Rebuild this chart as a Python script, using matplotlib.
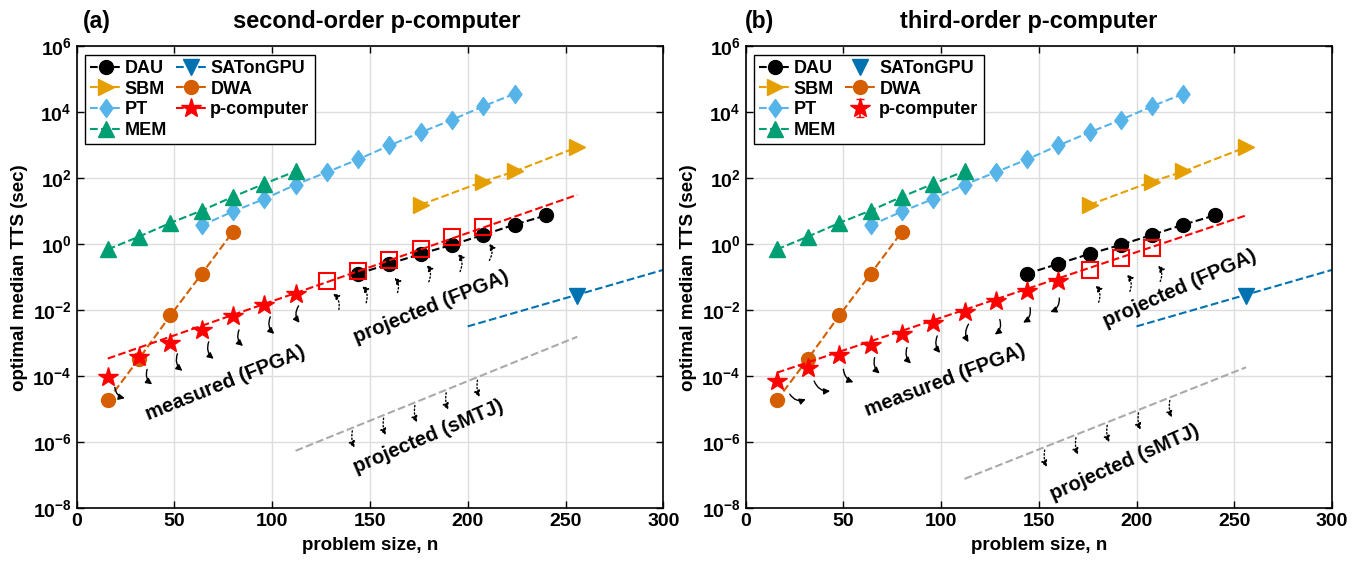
import matplotlib
matplotlib.use('Agg')
import matplotlib.pyplot as plt
from matplotlib import transforms
from matplotlib.lines import Line2D
from matplotlib.ticker import FixedLocator, FuncFormatter, NullLocator
import numpy as np

plt.rcParams['font.family'] = ['Liberation Sans', 'DejaVu Sans']
plt.rcParams['font.weight'] = 'bold'
plt.rcParams['mathtext.fontset'] = 'custom'
plt.rcParams['mathtext.rm'] = 'Liberation Sans:bold'
plt.rcParams['mathtext.bf'] = 'Liberation Sans:bold'
plt.rcParams['mathtext.it'] = 'Liberation Sans:bold'

# ---- data (TTS in seconds) ----
n_dau = [144, 160, 176, 192, 208, 224, 240]
tts_dau = [0.13, 0.26, 0.52, 0.98, 1.96, 4.0, 7.6]

n_sbm = [176, 208, 224, 256]
tts_sbm = [16, 81, 163, 890]

n_pt = [64, 80, 96, 112, 128, 144, 160, 176, 192, 208, 224]
tts_pt = [3.8, 10, 24, 65, 155, 380, 1000, 2500, 6000, 15500, 37000]

n_mem = [16, 32, 48, 64, 80, 96, 112]
tts_mem = [0.71, 1.74, 4.5, 10.7, 28, 69, 166]

n_dwa = [16, 32, 48, 64, 80]
tts_dwa = [1.9e-5, 3.5e-4, 7.1e-3, 0.129, 2.45]

n_gpu = [256]
tts_gpu = [0.028]
n_gpu_fit = [200, 300]
tts_gpu_fit = [3.3e-3, 0.17]

# second-order p-computer
n_pc2 = [16, 32, 48, 64, 80, 96, 112]
tts_pc2 = [9.5e-5, 3.8e-4, 1.05e-3, 2.6e-3, 6.8e-3, 1.48e-2, 3.2e-2]
n_proj2 = [128, 144, 160, 176, 192, 208]
tts_proj2 = [0.076, 0.16, 0.35, 0.74, 1.74, 3.3]
n_fit2 = [16, 256]
tts_fit2 = [3.5e-4, 32]
n_smtj2 = [112, 256]
tts_smtj2 = [5.6e-7, 1.6e-3]

# third-order p-computer
n_pc3 = [16, 32, 48, 64, 80, 96, 112, 128, 144, 160]
tts_pc3 = [7.2e-5, 1.8e-4, 4.4e-4, 9.3e-4, 2.0e-3, 4.2e-3, 8.9e-3, 2.0e-2, 4.0e-2, 7.8e-2]
n_proj3 = [176, 192, 208]
tts_proj3 = [0.166, 0.38, 0.76]
n_fit3 = [16, 256]
tts_fit3 = [1.3e-4, 7.6]
n_smtj3 = [112, 256]
tts_smtj3 = [7.9e-8, 1.9e-4]

c_sbm = '#E69F00'
c_pt = '#56B4E9'
c_mem = '#009E73'
c_dwa = '#D55E00'
c_gpu = '#0072B2'
c_smtj = '#AAAAAA'

# MATLAB-like diamond (taller than wide)
diamond = [(0, 1), (0.72, 0), (0, -1), (-0.72, 0), (0, 1)]

fig = plt.figure(figsize=(13.62, 5.67), dpi=100)
ax_a = fig.add_axes([0.0562, 0.1032, 0.4308, 0.8148])
ax_b = fig.add_axes([0.5474, 0.1032, 0.4306, 0.8148])


def arrows(ax, xs, ys, tails, heads, rads, ls):
    # offsets are in pixels, second value measured downwards
    for x, y, t, h, r in zip(xs, ys, tails, heads, rads):
        tr_t = transforms.offset_copy(ax.transData, fig=fig, x=t[0], y=-t[1], units='dots')
        tr_h = transforms.offset_copy(ax.transData, fig=fig, x=h[0], y=-h[1], units='dots')
        ax.annotate('', xy=(x, y), xycoords=tr_h, xytext=(x, y), textcoords=tr_t,
                    arrowprops=dict(arrowstyle='-|>', color='k', lw=1.0, linestyle=ls,
                                    mutation_scale=9, shrinkA=0, shrinkB=0,
                                    connectionstyle='arc3,rad=%.2f' % r))


def on_line(nx, ny, xs):
    return 10 ** np.interp(xs, nx, np.log10(ny))


def draw(ax, third):
    lw = 1.5
    h_dau, = ax.plot(n_dau, tts_dau, '--o', color='k', lw=lw, ms=10, zorder=4)
    h_sbm, = ax.plot(n_sbm, tts_sbm, '-->', color=c_sbm, lw=lw, ms=11)
    h_pt, = ax.plot(n_pt, tts_pt, '--', marker=diamond, color=c_pt, lw=lw, ms=13)
    h_mem, = ax.plot(n_mem, tts_mem, '--^', color=c_mem, lw=lw, ms=11)
    h_dwa, = ax.plot(n_dwa, tts_dwa, '--o', color=c_dwa, lw=lw, ms=10)
    ax.plot(n_gpu_fit, tts_gpu_fit, '--', color=c_gpu, lw=lw)
    h_gpu, = ax.plot(n_gpu, tts_gpu, 'v', color=c_gpu, ms=11,
                     ls='none' if third else '--', lw=lw)

    if third:
        n_pc, tts_pc, n_pj, tts_pj = n_pc3, tts_pc3, n_proj3, tts_proj3
        n_fit, tts_fit, n_sm, tts_sm = n_fit3, tts_fit3, n_smtj3, tts_smtj3
    else:
        n_pc, tts_pc, n_pj, tts_pj = n_pc2, tts_pc2, n_proj2, tts_proj2
        n_fit, tts_fit, n_sm, tts_sm = n_fit2, tts_fit2, n_smtj2, tts_smtj2

    ax.plot(n_fit, tts_fit, '--', color='r', lw=lw, zorder=5)
    ax.plot(n_sm, tts_sm, '--', color=c_smtj, lw=lw)
    ax.plot(n_pj, tts_pj, 's', color='r', mfc='none', mew=1.5, ms=11, zorder=6)
    if third:
        h_pc = ax.errorbar(n_pc, tts_pc, yerr=np.zeros(len(n_pc)), fmt='*', color='r',
                           ms=15, capsize=3, elinewidth=1.2, zorder=6)
    else:
        ax.plot(n_pc, tts_pc, '*', color='r', ms=15, zorder=6)
        h_pc = Line2D([], [], color='r', ls='--', lw=lw, marker='*', ms=15)

    ax.set_yscale('log')
    ax.set_xlim(0, 300)
    ax.set_ylim(1e-8, 1e6)
    ax.xaxis.set_major_locator(FixedLocator([0, 50, 100, 150, 200, 250, 300]))
    ax.yaxis.set_major_locator(FixedLocator([10.0 ** k for k in range(-8, 7, 2)]))
    ax.yaxis.set_minor_locator(NullLocator())
    ax.yaxis.set_major_formatter(FuncFormatter(lambda v, p: r'$\mathbf{10^{%d}}$' % round(np.log10(v))))
    ax.tick_params(direction='in', top=True, right=True, length=5, width=1.0, labelsize=14)
    ax.grid(True, color='#DDDDDD', lw=1.0)
    ax.set_axisbelow(True)
    for s in ax.spines.values():
        s.set_linewidth(1.2)

    ax.set_xlabel('problem size, n', fontsize=13.5, fontweight='bold')
    ax.set_ylabel('optimal median TTS (sec)', fontsize=13.5, fontweight='bold')
    ax.yaxis.set_label_coords(-0.082, 0.5)
    ax.xaxis.set_label_coords(0.5, -0.062)

    leg = ax.legend([h_dau, h_sbm, h_pt, h_mem, h_gpu, h_dwa, h_pc],
                    ['DAU', 'SBM', 'PT', 'MEM', 'SATonGPU', 'DWA', 'p-computer'],
                    ncol=2, loc='upper left', bbox_to_anchor=(0.008, 0.99),
                    prop={'size': 13, 'weight': 'bold'}, fancybox=False,
                    edgecolor='k', framealpha=1, handlelength=1.7, handletextpad=0.2,
                    columnspacing=0.5, labelspacing=0.2, borderpad=0.3, borderaxespad=0.2)
    leg.get_frame().set_linewidth(1.0)

    # annotation arrows
    if third:
        arrows(ax, n_pc, tts_pc,
               [(13, 13), (6, 13), (4, 14), (4, 13), (5, 14), (4, 13), (4, 12), (4, 19), (3, 17), (1, 17)],
               [(29, 18), (22, 23), (14, 27), (9, 29), (9, 30), (7, 30), (4, 30), (-1, 34), (-4, 32), (-8, 31)],
               [0.4, 0.35, 0.3, 0.3, 0.3, 0.3, 0.3, -0.35, -0.35, -0.35], '-')
        arrows(ax, n_pj, tts_pj, [(9, 32), (9, 33), (8, 33)], [(6, 15), (6, 16), (6, 17)],
               [0.3] * 3, ':')
        xs = [153, 169, 185, 201, 217]
    else:
        arrows(ax, n_pc, tts_pc,
               [(7, 10), (8, 12), (7, 11), (7, 12), (6, 14), (6, 12), (3, 12)],
               [(17, 21), (13, 27), (12, 28), (12, 29), (10, 30), (10, 29), (4, 29)],
               [0.35] * 7, '-')
        arrows(ax, n_pj, tts_pj,
               [(12, 28), (8, 32), (8, 33), (8, 33), (8, 35), (6, 33)],
               [(6, 12), (4, 15), (5, 18), (6, 16), (6, 17), (6, 16)],
               [0.3] * 6, ':')
        xs = [141, 157, 173, 189, 205]
    arrows(ax, xs, on_line(n_sm, tts_sm, xs), [(0, 3)] * 5, [(2, 20)] * 5, [0.15] * 5, ':')

    fs = 14.5
    if third:
        ax.text(102, 10 ** -4.12, 'measured (FPGA)', rotation=21, ha='center', va='center',
                rotation_mode='anchor', fontsize=fs, fontweight='bold')
        ax.text(222, 10 ** -1.34, 'projected (FPGA)', rotation=24, ha='center', va='center',
                rotation_mode='anchor', fontsize=fs, fontweight='bold')
        ax.text(194, 10 ** -6.62, 'projected (sMTJ)', rotation=24, ha='center', va='center',
                rotation_mode='anchor', fontsize=fs, fontweight='bold')
    else:
        ax.text(76, 10 ** -4.21, 'measured (FPGA)', rotation=22, ha='center', va='center',
                rotation_mode='anchor', fontsize=fs, fontweight='bold')
        ax.text(181.5, 10 ** -1.90, 'projected (FPGA)', rotation=22, ha='center', va='center',
                rotation_mode='anchor', fontsize=fs, fontweight='bold')
        ax.text(180, 10 ** -5.84, 'projected (sMTJ)', rotation=23, ha='center', va='center',
                rotation_mode='anchor', fontsize=fs, fontweight='bold')


draw(ax_a, False)
draw(ax_b, True)

fig.text(0.071, 0.962, '(a)', ha='center', va='center', fontsize=16.5, fontweight='bold')
fig.text(0.2768, 0.962, 'second-order p-computer', ha='center', va='center', fontsize=17, fontweight='bold')
fig.text(0.558, 0.962, '(b)', ha='center', va='center', fontsize=16.5, fontweight='bold')
fig.text(0.7556, 0.962, 'third-order p-computer', ha='center', va='center', fontsize=17, fontweight='bold')

fig.savefig('out.png', dpi=100)
